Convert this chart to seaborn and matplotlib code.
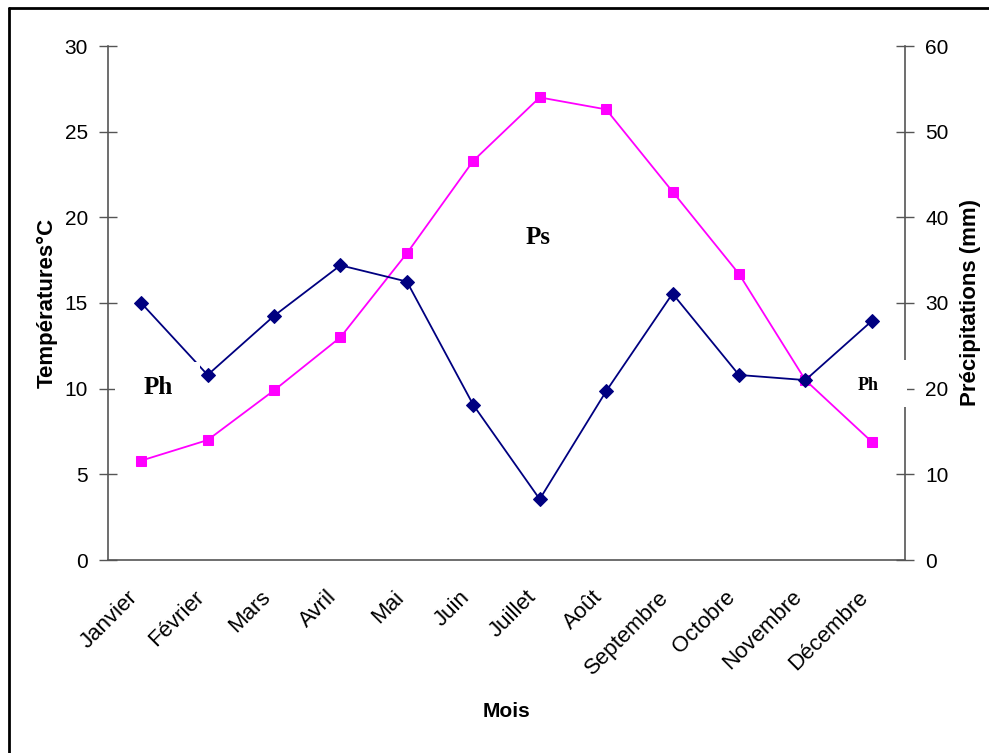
import matplotlib.pyplot as plt
import matplotlib.patches as mpatches
import matplotlib.transforms as mtransforms
from matplotlib.lines import Line2D
import numpy as np
import seaborn as sns

months = ["Janvier", "Février", "Mars", "Avril", "Mai", "Juin", "Juillet",
          "Août", "Septembre", "Octobre", "Novembre", "Décembre"]
temperatures = [5.8, 7.0, 9.9, 13.0, 17.9, 23.3, 27.0, 26.3, 21.5, 16.7, 10.5, 6.9]
precipitations = [30.0, 21.6, 28.5, 34.4, 32.5, 18.1, 7.1, 19.7, 31.1, 21.6, 21.0, 27.9]

sns.set_style("white")
plt.rcParams['font.family'] = ['Liberation Sans', 'DejaVu Sans']
plt.rcParams['text.color'] = 'black'
plt.rcParams['axes.labelcolor'] = 'black'

spine_col = "#555555"
x = np.arange(len(months)) + 0.5

fig = plt.figure(figsize=(9.89, 7.53), dpi=100)
ax = fig.add_axes([108 / 989, 1 - 560 / 753, (905 - 108) / 989, (560 - 46) / 753])
ax2 = ax.twinx()

sns.lineplot(x=x, y=temperatures, ax=ax, color="#FF00FF", marker="s",
             markersize=7, markeredgecolor="#FF00FF", linewidth=1.3, sort=False)
sns.lineplot(x=x, y=precipitations, ax=ax2, color="#000080", marker="D",
             markersize=7.5, markeredgecolor="#000080", linewidth=1.3, sort=False)

ax.set_xlim(0, 12)
ax.set_ylim(0, 30)
ax2.set_ylim(0, 60)
ax.set_yticks(np.arange(0, 31, 5))
ax2.set_yticks(np.arange(0, 61, 10))

# ticks at category boundaries, labels at centres
ax.set_xticks(np.arange(0, 13))
ax.set_xticklabels([])
ax.set_xticks(x, minor=True)
ax.set_xticklabels(months, minor=True, rotation=45, ha="right", va="top",
                   rotation_mode="anchor", fontsize=16, color="black")
ax.tick_params(axis="x", which="minor", length=0, pad=12)
shift = mtransforms.ScaledTranslation(-14 / 100, -10 / 100, fig.dpi_scale_trans)
for lab in ax.get_xticklabels(minor=True):
    lab.set_transform(lab.get_transform() + shift)

for a in (ax, ax2):
    a.tick_params(axis="both", which="major", direction="inout", length=13,
                  width=1, color=spine_col, labelsize=15, labelcolor="black")
    for s in a.spines.values():
        s.set_color(spine_col)
        s.set_linewidth(1.2)
    a.spines["top"].set_visible(False)
ax.tick_params(axis="y", pad=8)
ax2.tick_params(axis="y", pad=8)
ax.spines["right"].set_visible(False)
ax2.spines["left"].set_visible(False)
ax2.spines["bottom"].set_visible(False)

ax.set_xlabel("Mois", fontsize=15, fontweight="bold", labelpad=17)
ax.set_ylabel("Températures°C", fontsize=16, fontweight="bold", labelpad=5)
ax2.set_ylabel("Précipitations (mm)", fontsize=16, fontweight="bold", labelpad=8)
ax.grid(False)
ax2.grid(False)

# white boxes behind the annotations
ax2.add_patch(mpatches.Rectangle((7 / 797, (560 - 412) / 514), 85 / 797, 50 / 514,
                                 transform=ax2.transAxes, facecolor="white",
                                 edgecolor="none", zorder=5, clip_on=False))
ax2.add_patch(mpatches.Rectangle((0.93, (560 - 407) / 514), 0.072, 47 / 514,
                                 transform=ax2.transAxes, facecolor="white",
                                 edgecolor="none", zorder=5, clip_on=False))
ax2.text(0.063, (560 - 388) / 514, "Ph", transform=ax2.transAxes, fontsize=18,
         fontweight="bold", family=["Liberation Serif"], ha="center", va="center",
         color="black", zorder=6)
ax2.text(0.954, (560 - 385) / 514, "Ph", transform=ax2.transAxes, fontsize=13,
         fontweight="bold", family=["Liberation Serif"], ha="center", va="center",
         color="black", zorder=6)
ax2.text(0.54, (560 - 237) / 514, "Ps", transform=ax2.transAxes, fontsize=18,
         fontweight="bold", family=["Liberation Serif"], ha="center", va="center",
         color="black", zorder=6)

# outer frame (left and top visible)
fig.add_artist(Line2D([9 / 989, 9 / 989], [0, 1 - 8 / 753], color="black", linewidth=2))
fig.add_artist(Line2D([9 / 989, 1], [1 - 8 / 753, 1 - 8 / 753], color="black", linewidth=2))

fig.savefig("out.png", dpi=100, facecolor="white")
